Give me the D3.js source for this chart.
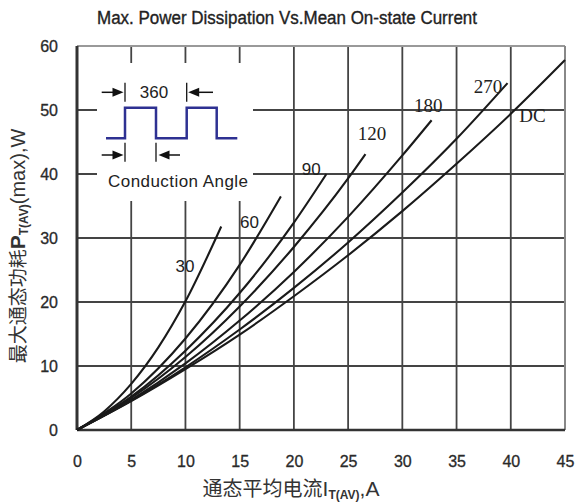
<!DOCTYPE html>
<html>
<head>
<meta charset="utf-8">
<script src="https://cdn.jsdelivr.net/npm/d3@7"></script>
<style>
  body { margin: 0; background: #fff; }
  svg { display: block; }
</style>
</head>
<body>
<div class="canvas"></div>
<script>
// values
const angleNames = ['30', '60', '90', '120', '180', '270', 'DC']
const current30 = [0, 2.5, 5, 7.5, 10, 13.3]
const power30 = [0, 2.9, 7.2, 12.9, 20.1, 31.8]
const current60 = [0, 5, 10, 15, 18.8]
const power60 = [0, 5.7, 14.3, 25.8, 36.5]
const current90 = [0, 5, 10, 15, 20, 23]
const power90 = [0, 5.2, 12.4, 21.4, 32.4, 40.0]
const current120 = [0, 5, 10, 15, 20, 25, 26.6]
const power120 = [0, 5.0, 11.4, 19.3, 28.6, 39.3, 43.1]
const current180 = [0, 5, 10, 15, 20, 25, 30, 32.7]
const power180 = [0, 4.7, 10.4, 17.1, 24.7, 33.3, 42.9, 48.4]
const current270 = [0, 5, 10, 15, 20, 25, 30, 35, 39.7]
const power270 = [0, 4.6, 9.8, 15.7, 22.2, 29.3, 37.1, 45.5, 54.2]
const currentDC = [0, 5, 10, 15, 20, 25, 30, 35, 40, 45]
const powerDC = [0, 4.5, 9.5, 14.9, 20.9, 27.3, 34.2, 41.6, 49.4, 57.8]
const xTicks = [0, 5, 10, 15, 20, 25, 30, 35, 40, 45]
const yTicks = [0, 10, 20, 30, 40, 50, 60]

const currents = [current30, current60, current90, current120, current180, current270, currentDC]
const powers = [power30, power60, power90, power120, power180, power270, powerDC]

// where each curve label sits (data units, middle / baseline)
const labelPos = [[9.95, 24.7], [15.9, 31.6], [21.6, 39.8], [27.2, 45.3], [32.4, 49.7], [37.9, 52.7], [42.0, 48.1]]
const labelSerif = [false, false, false, true, true, true, true]

const W = 577, H = 503
const margin = {top: 46, right: 12, bottom: 73, left: 77}
const graphWidth = W - margin.left - margin.right
const graphHeight = H - margin.top - margin.bottom

const svg = d3.select('.canvas').append('svg')
    .attr('width', W)
    .attr('height', H)

const x = d3.scaleLinear().domain([0, 45]).range([0, graphWidth])
const y = d3.scaleLinear().domain([0, 60]).range([graphHeight, 0])

const graph = svg.append('g')
    .attr('transform', `translate(${margin.left}, ${margin.top})`)

//grid
graph.selectAll('.vgrid')
    .data(xTicks.slice(1, -1))
    .enter().append('line')
    .attr('x1', d => x(d)).attr('x2', d => x(d))
    .attr('y1', 0).attr('y2', graphHeight)
    .attr('stroke', '#444').attr('stroke-width', 1.8)

graph.selectAll('.hgrid')
    .data(yTicks.slice(1, -1))
    .enter().append('line')
    .attr('x1', 0).attr('x2', graphWidth)
    .attr('y1', d => y(d)).attr('y2', d => y(d))
    .attr('stroke', '#444').attr('stroke-width', 1.8)

//frame: top and right lighter
graph.append('line').attr('x1', 0).attr('x2', graphWidth).attr('y1', 0).attr('y2', 0)
    .attr('stroke', '#999').attr('stroke-width', 2)
graph.append('line').attr('x1', graphWidth).attr('x2', graphWidth).attr('y1', 0).attr('y2', graphHeight)
    .attr('stroke', '#888').attr('stroke-width', 2)

//inset box hides the grid
const inset = svg.append('g')
inset.append('rect')
    .attr('x', 97).attr('y', 63).attr('width', 156).attr('height', 138)
    .attr('fill', '#fff')

//axes
const xAxis = d3.axisBottom(x).tickValues(xTicks).tickSize(0).tickPadding(26)
const yAxis = d3.axisLeft(y).tickValues(yTicks).tickSize(0).tickPadding(19)

const xg = graph.append('g').attr('transform', `translate(0, ${graphHeight})`).call(xAxis)
const yg = graph.append('g').call(yAxis)
;[xg, yg].forEach(g => {
    g.select('.domain').remove()
    g.selectAll('text')
        .attr('font-family', 'Liberation Sans, Arial, sans-serif')
        .attr('font-size', 16)
        .attr('fill', '#2a2a2a')
        .attr('stroke', '#2a2a2a')
        .attr('stroke-width', 0.3)
})

graph.append('line').attr('x1', 0).attr('x2', graphWidth).attr('y1', graphHeight).attr('y2', graphHeight)
    .attr('stroke', '#333').attr('stroke-width', 2.5)
graph.append('line').attr('x1', 0).attr('x2', 0).attr('y1', 0).attr('y2', graphHeight)
    .attr('stroke', '#333').attr('stroke-width', 3)

//curves
const line = d3.line()
    .x(d => x(d[0]))
    .y(d => y(d[1]))
    .curve(d3.curveMonotoneX)

graph.selectAll('.curve')
    .data(angleNames.map((n, i) => currents[i].map((c, j) => [c, powers[i][j]])))
    .enter().append('path')
    .attr('d', line)
    .attr('fill', 'none')
    .attr('stroke', '#1a1a1a')
    .attr('stroke-width', 2.1)

graph.selectAll('.lbl')
    .data(angleNames)
    .enter().append('text')
    .attr('x', (d, i) => x(labelPos[i][0]))
    .attr('y', (d, i) => y(labelPos[i][1]))
    .attr('text-anchor', 'middle')
    .attr('font-family', (d, i) => labelSerif[i] ? 'Liberation Serif, serif' : 'Liberation Sans, Arial, sans-serif')
    .attr('font-size', (d, i) => labelSerif[i] ? 19 : 17)
    .attr('fill', '#222')
    .text(d => d)

//inset: conduction angle sketch
inset.append('path')
    .attr('d', 'M106,138.3 H125 V107.7 H156 V138.3 H186.7 V107.7 H216.7 V138.3 H237.3')
    .attr('fill', 'none')
    .attr('stroke', '#2e3192')
    .attr('stroke-width', 2.5)

const bars = [[125, 82.7, 101.7], [186.7, 82.7, 101.7], [125, 142.7, 161.7], [156, 142.7, 161.7]]
inset.selectAll('.bar').data(bars).enter().append('line')
    .attr('x1', d => d[0]).attr('x2', d => d[0])
    .attr('y1', d => d[1]).attr('y2', d => d[2])
    .attr('stroke', '#111').attr('stroke-width', 1.3)

// [from, tip, y]
const arrows = [[101.7, 123.5, 92.3], [213, 188.2, 92.3], [101.7, 123.5, 155], [180, 158.5, 155]]
arrows.forEach(a => {
    const dir = a[1] > a[0] ? 1 : -1
    inset.append('line')
        .attr('x1', a[0]).attr('x2', a[1] - dir * 6)
        .attr('y1', a[2]).attr('y2', a[2])
        .attr('stroke', '#111').attr('stroke-width', 1.5)
    inset.append('path')
        .attr('d', `M${a[1]},${a[2]} L${a[1] - dir * 11},${a[2] - 4.5} L${a[1] - dir * 11},${a[2] + 4.5} Z`)
        .attr('fill', '#111')
})

inset.append('text')
    .attr('x', 154).attr('y', 98)
    .attr('text-anchor', 'middle')
    .attr('font-family', 'Liberation Sans, Arial, sans-serif')
    .attr('font-size', 17)
    .attr('fill', '#222')
    .text('360')

inset.append('text')
    .attr('x', 178).attr('y', 187)
    .attr('text-anchor', 'middle')
    .attr('font-family', 'Liberation Sans, Arial, sans-serif')
    .attr('font-size', 17)
    .attr('textLength', 140)
    .attr('fill', '#222')
    .text('Conduction Angle')

//title
svg.append('text')
    .attr('x', 287).attr('y', 24)
    .attr('text-anchor', 'middle')
    .attr('font-family', 'Liberation Sans, Arial, sans-serif')
    .attr('font-size', 18)
    .attr('textLength', 380)
    .attr('lengthAdjust', 'spacingAndGlyphs')
    .attr('fill', '#222')
    .attr('stroke', '#222')
    .attr('stroke-width', 0.35)
    .text('Max. Power Dissipation Vs.Mean On-state Current')

//x axis title
const xt = svg.append('text')
    .attr('x', 291).attr('y', 496)
    .attr('text-anchor', 'middle')
    .attr('fill', '#333')
    .attr('font-family', 'Noto Sans CJK SC, sans-serif')
    .attr('font-size', 20)
xt.append('tspan').text('通态平均电流')
xt.append('tspan').attr('font-family', 'Liberation Sans, Arial, sans-serif').attr('font-size', 21).text('I')
xt.append('tspan').attr('font-family', 'Liberation Sans, Arial, sans-serif').attr('font-size', 12).attr('font-weight', 'bold').attr('dy', 3).text('T(AV)')
xt.append('tspan').attr('font-family', 'Liberation Sans, Arial, sans-serif').attr('font-size', 21).attr('dy', -3).text(',A')

//y axis title
const yt = svg.append('text')
    .attr('transform', 'translate(25, 246) rotate(-90)')
    .attr('text-anchor', 'middle')
    .attr('fill', '#333')
    .attr('font-family', 'Noto Sans CJK SC, sans-serif')
    .attr('font-size', 19)
yt.append('tspan').text('最大通态功耗')
yt.append('tspan').attr('font-family', 'Liberation Sans, Arial, sans-serif').attr('font-size', 21).attr('font-weight', 'bold').text('P')
yt.append('tspan').attr('font-family', 'Liberation Sans, Arial, sans-serif').attr('font-size', 12).attr('font-weight', 'bold').attr('dy', 3).text('T(AV)')
yt.append('tspan').attr('font-family', 'Liberation Sans, Arial, sans-serif').attr('font-size', 20).attr('dy', -3).text('(max),W')
</script>
</body>
</html>
